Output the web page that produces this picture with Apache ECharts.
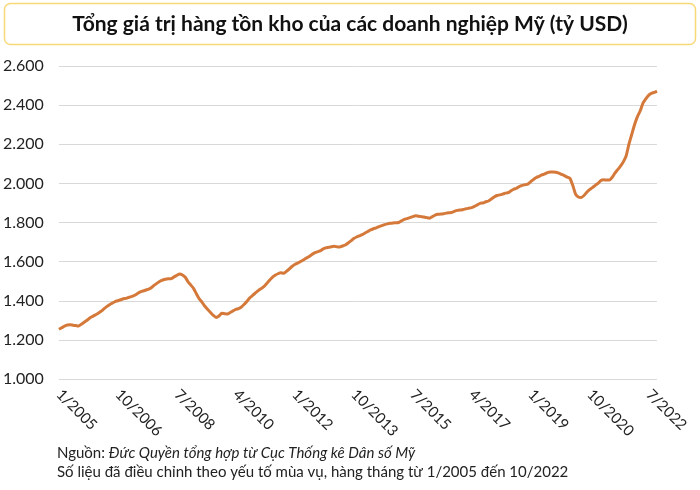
<!DOCTYPE html>
<html>
<head>
<meta charset="utf-8">
<script src="https://cdn.jsdelivr.net/npm/echarts@6/dist/echarts.min.js"></script>
<style>
  html, body { margin: 0; padding: 0; background: #fff; }
  #chart { width: 700px; height: 490px; }
</style>
</head>
<body>
<div id="chart"></div>
<script>
// tồn kho hàng tháng, tỷ USD, 1/2005 -> 10/2022
var years = [2005, 2006, 2007, 2008, 2009, 2010, 2011, 2012, 2013, 2014, 2015, 2016, 2017, 2018, 2019, 2020, 2021, 2022]
var v2005 = [1254, 1262, 1270, 1276, 1277, 1275, 1273, 1271, 1280, 1290, 1300, 1312]
var v2006 = [1320, 1328, 1336, 1346, 1358, 1370, 1380, 1388, 1396, 1400, 1405, 1410]
var v2007 = [1412, 1418, 1422, 1428, 1437, 1445, 1450, 1455, 1460, 1468, 1480, 1490]
var v2008 = [1500, 1506, 1510, 1512, 1513, 1522, 1530, 1537, 1532, 1520, 1497, 1480]
var v2009 = [1462, 1435, 1410, 1392, 1372, 1355, 1340, 1325, 1315, 1322, 1336, 1334]
var v2010 = [1332, 1340, 1348, 1356, 1360, 1368, 1382, 1398, 1415, 1428, 1440, 1452]
var v2011 = [1462, 1472, 1488, 1505, 1520, 1530, 1538, 1543, 1540, 1550, 1562, 1575]
var v2012 = [1585, 1592, 1600, 1608, 1617, 1625, 1635, 1645, 1650, 1655, 1664, 1670]
var v2013 = [1673, 1676, 1678, 1676, 1675, 1680, 1685, 1695, 1706, 1718, 1726, 1732]
var v2014 = [1738, 1746, 1754, 1762, 1768, 1773, 1779, 1784, 1789, 1793, 1796, 1798]
var v2015 = [1799, 1800, 1808, 1816, 1820, 1825, 1830, 1835, 1832, 1830, 1828, 1825]
var v2016 = [1822, 1830, 1838, 1842, 1843, 1845, 1848, 1850, 1852, 1858, 1862, 1864]
var v2017 = [1866, 1870, 1873, 1876, 1882, 1890, 1898, 1900, 1906, 1910, 1920, 1930]
var v2018 = [1938, 1941, 1945, 1950, 1953, 1962, 1970, 1975, 1984, 1990, 1993, 1996]
var v2019 = [2008, 2020, 2030, 2036, 2043, 2048, 2055, 2058, 2058, 2057, 2052, 2046]
var v2020 = [2040, 2032, 2026, 1990, 1945, 1930, 1928, 1938, 1955, 1968, 1978, 1990]
var v2021 = [2000, 2015, 2018, 2017, 2017, 2030, 2052, 2070, 2088, 2110, 2140, 2200]
var v2022 = [2250, 2300, 2340, 2370, 2410, 2432, 2450, 2460, 2465, 2472]

var yearValues = [v2005, v2006, v2007, v2008, v2009, v2010, v2011, v2012, v2013,
  v2014, v2015, v2016, v2017, v2018, v2019, v2020, v2021, v2022]

// nhãn trục x, cách nhau 21 tháng
var tickLabels = ['1/2005', '10/2006', '7/2008', '4/2010', '1/2012', '10/2013',
  '7/2015', '4/2017', '1/2019', '10/2020', '7/2022']

var months = []
var values = []
years.forEach(function (y, k) {
  yearValues[k].forEach(function (v, m) {
    months.push((m + 1) + '/' + y)
    values.push(v)
  })
})

var chart = echarts.init(document.getElementById('chart'))
var font = 'Lato, "Noto Sans", sans-serif'

chart.setOption({
  animation: false,
  textStyle: { fontFamily: font },
  graphic: [
    {
      type: 'rect',
      shape: { x: 4.5, y: 3.5, width: 691, height: 41, r: 6 },
      style: { fill: '#fff', stroke: '#f8d978', lineWidth: 1.5 }
    },
    {
      type: 'text',
      x: 350, y: 24,
      style: {
        text: 'Tổng giá trị hàng tồn kho của các doanh nghiệp Mỹ (tỷ USD)',
        font: 'bold 21px ' + font,
        fill: '#111',
        align: 'center',
        verticalAlign: 'middle'
      }
    },
    {
      type: 'text',
      x: 57, y: 453,
      style: {
        text: '{n|Nguồn: }{i|Đức Quyền tổng hợp từ Cục Thống kê Dân số Mỹ}',
        verticalAlign: 'middle',
        rich: {
          n: { fontFamily: font, fontSize: 15, fill: '#222' },
          i: { fontFamily: font, fontSize: 15, fontStyle: 'italic', fill: '#222' }
        }
      }
    },
    {
      type: 'text',
      x: 57, y: 472,
      style: {
        text: 'Số liệu đã điều chỉnh theo yếu tố mùa vụ, hàng tháng từ 1/2005 đến 10/2022',
        font: '15px ' + font,
        fill: '#222',
        verticalAlign: 'middle'
      }
    }
  ],
  grid: { left: 55, right: 43, top: 66, bottom: 111 },
  xAxis: {
    type: 'category',
    data: months,
    boundaryGap: false,
    axisLine: { show: false },
    axisTick: { show: false },
    axisLabel: {
      interval: 20,
      rotate: -45,
      margin: 13,
      color: '#222',
      fontSize: 15,
      fontFamily: font,
      formatter: function (v) {
        return tickLabels.indexOf(v) >= 0 ? v : ''
      }
    },
    splitLine: { show: false }
  },
  yAxis: {
    type: 'value',
    min: 1000,
    max: 2600,
    interval: 200,
    axisLine: { show: false },
    axisTick: { show: false },
    axisLabel: {
      margin: 15,
      color: '#222',
      fontSize: 16,
      fontFamily: font,
      formatter: function (v) {
        return String(v).replace(/\B(?=(\d{3})+(?!\d))/g, '.')
      }
    },
    splitLine: { lineStyle: { color: '#d9d9d9', width: 1 } }
  },
  series: [{
    type: 'line',
    data: values,
    showSymbol: false,
    smooth: 0.2,
    lineStyle: { color: '#d5793a', width: 3 }
  }]
})
</script>
</body>
</html>
